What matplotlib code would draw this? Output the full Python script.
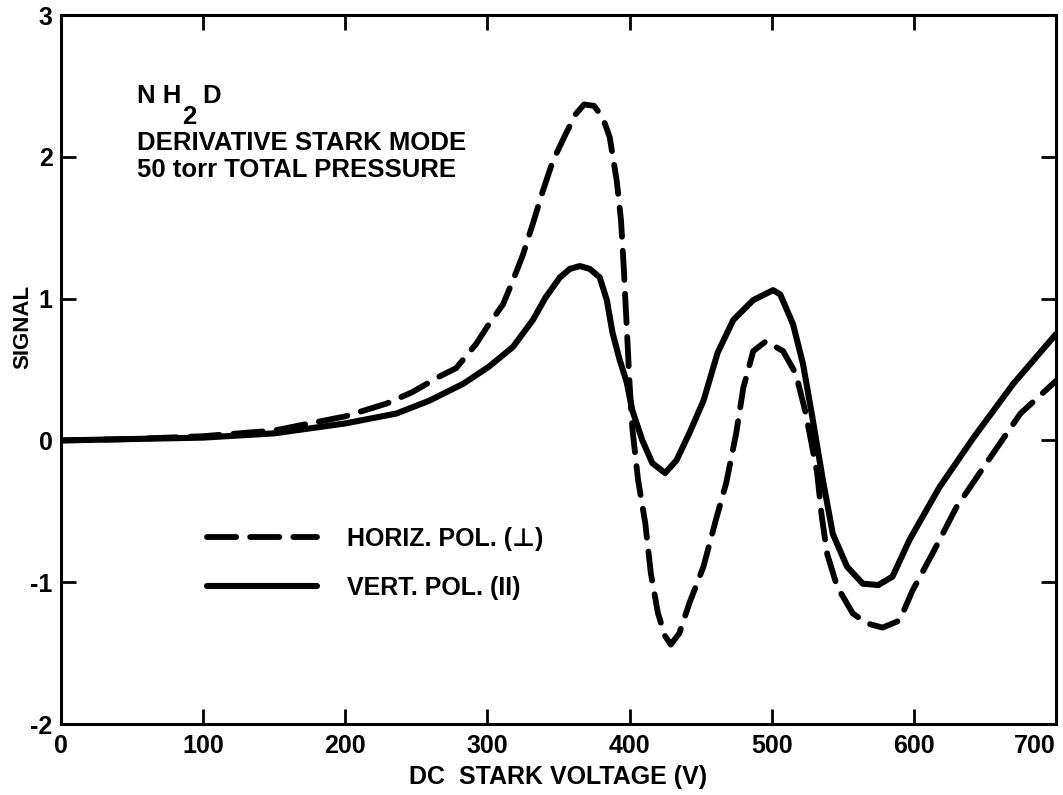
import numpy as np
import matplotlib
matplotlib.use("Agg")
import matplotlib.pyplot as plt

# Horizontal polarisation (dashed)
horiz_v = [0, 50, 100, 150, 200, 229, 247, 266, 278, 292, 301, 311, 318, 325, 332,
           339, 346, 355, 362, 368, 375, 381, 386, 391, 394, 396, 398, 400, 402, 406,
           411, 415, 420, 425, 429, 435, 442, 452, 461, 468, 475, 480, 487, 496, 508,
           517, 524, 532, 535, 539, 546, 557, 567, 578, 590, 599, 613, 630, 649, 675, 700]
horiz_s = [0, 0.01, 0.03, 0.07, 0.17, 0.26, 0.34, 0.45, 0.51, 0.68, 0.82, 0.96, 1.13, 1.31, 1.53,
           1.76, 1.97, 2.16, 2.30, 2.37, 2.36, 2.28, 2.14, 1.83, 1.55, 1.20, 0.80, 0.40, 0.08, -0.28,
           -0.58, -0.94, -1.22, -1.38, -1.44, -1.36, -1.15, -0.89, -0.55, -0.30, 0.05, 0.37, 0.63, 0.70, 0.63,
           0.47, 0.19, -0.23, -0.52, -0.80, -1.03, -1.22, -1.29, -1.32, -1.27, -1.06, -0.80, -0.47, -0.19, 0.19, 0.42]

# Vertical polarisation (solid)
vert_v = [0, 50, 100, 150, 200, 236, 259, 283, 301, 318, 332, 341, 351, 358, 365, 372,
          379, 384, 388, 393, 398, 402, 409, 416, 425, 433, 442, 452, 462, 473, 487, 501,
          506, 515, 522, 529, 536, 543, 553, 564, 575, 585, 597, 618, 642, 670, 700]
vert_s = [0, 0.01, 0.02, 0.05, 0.12, 0.19, 0.28, 0.40, 0.52, 0.66, 0.85, 1.01, 1.15, 1.21, 1.23, 1.21,
          1.15, 0.99, 0.76, 0.57, 0.41, 0.21, 0.0, -0.16, -0.23, -0.14, 0.05, 0.28, 0.62, 0.85, 0.99, 1.06,
          1.03, 0.82, 0.54, 0.14, -0.28, -0.66, -0.89, -1.01, -1.02, -0.96, -0.70, -0.33, 0.02, 0.40, 0.75]

x_ticks = [0, 100, 200, 300, 400, 500, 600, 700]
y_ticks = [-2, -1, 0, 1, 2, 3]

labels = ["HORIZ. POL. (\u22a5)", "VERT. POL. (II)"]

plt.rcParams["font.family"] = ["Liberation Sans", "DejaVu Sans"]
plt.rcParams["font.weight"] = "bold"
plt.rcParams["axes.unicode_minus"] = False

fig = plt.figure(figsize=(10.63, 7.95), dpi=100)
ax = fig.add_axes([0.0574, 0.0893, 0.936, 0.8917])

ax.plot(horiz_v, horiz_s, color="black", lw=4.2, linestyle=(0, (5, 2.4)),
        dash_capstyle="round", label=labels[0])
ax.plot(vert_v, vert_s, color="black", lw=4.4, solid_capstyle="round",
        solid_joinstyle="round", label=labels[1])

ax.set_xlim(0, 700)
ax.set_ylim(-2, 3)
ax.set_xticks(x_ticks)
ax.set_yticks(y_ticks)
ax.tick_params(direction="in", length=11, width=2, top=True, right=True,
               labelsize=18)
ax.tick_params(axis="x", pad=7)
ax.tick_params(axis="y", pad=6)
ax.get_xticklabels()[-1].set_horizontalalignment("right")
for s in ax.spines.values():
    s.set_linewidth(2.2)

ax.set_xlabel("DC  STARK VOLTAGE (V)", fontsize=18, fontweight="bold")
ax.xaxis.set_label_coords(0.5, -0.058)
ax.set_ylabel("SIGNAL", fontsize=16, fontweight="bold")
ax.yaxis.set_label_coords(-0.028, 0.56)

# annotation block
ax.text(0.0764, 0.876, "N H", transform=ax.transAxes, fontsize=18.5, va="baseline")
ax.text(0.1216, 0.846, "2", transform=ax.transAxes, fontsize=18.5, va="baseline")
ax.text(0.1417, 0.876, "D", transform=ax.transAxes, fontsize=18.5, va="baseline")
ax.text(0.0764, 0.810, "DERIVATIVE STARK MODE", transform=ax.transAxes,
        fontsize=18.5, va="baseline")
ax.text(0.0764, 0.771, "50 torr TOTAL PRESSURE", transform=ax.transAxes,
        fontsize=18.5, va="baseline")

ax.legend(loc="center left", bbox_to_anchor=(0.147, 0.227), frameon=False,
          fontsize=18, handlelength=4.4, handletextpad=1.2, labelspacing=1.0,
          borderpad=0, borderaxespad=0)

fig.savefig("out.png", dpi=100)
